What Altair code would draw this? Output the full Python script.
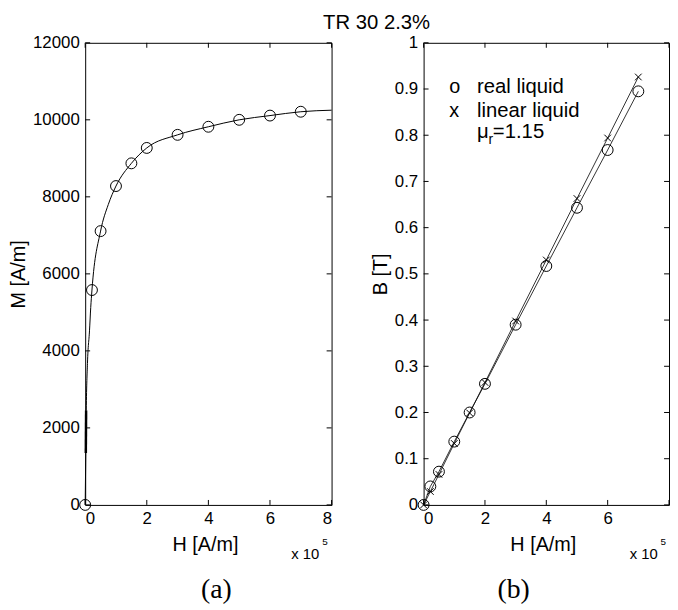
import altair as alt
import pandas as pd

# ---------------- data (H in units of 1e5 A/m) ----------------
H_pts = [0, 0.22, 0.5, 1, 1.5, 2, 3, 4, 5, 6, 7]
M_pts = [0, 5580, 7110, 8280, 8870, 9270, 9610, 9820, 10000, 10110, 10210]

H_curve = [0, 0.02, 0.035, 0.074, 0.14, 0.18, 0.22, 0.5, 0.75, 1, 1.5, 2, 3, 4, 5, 6, 7, 8]
M_curve = [0, 1400, 2450, 3670, 4520, 5125, 5580, 7110, 7800, 8280, 8870, 9270, 9610, 9820, 10000, 10110, 10210, 10250]

H_thick = [0.02, 0.03]
M_thick = [1350, 2450]

B_real = [0, 0.040, 0.072, 0.137, 0.200, 0.262, 0.390, 0.517, 0.643, 0.768, 0.895]
B_lin = [0, 0.029, 0.066, 0.133, 0.199, 0.265, 0.398, 0.530, 0.663, 0.794, 0.926]

x_ticks = [0, 2, 4, 6, 8]
m_ticks = [0, 2000, 4000, 6000, 8000, 10000, 12000]
b_ticks = [0, 0.1, 0.2, 0.3, 0.4, 0.5, 0.6, 0.7, 0.8, 0.9, 1]

title_text = "TR 30 2.3%"
legend_labels = ["real liquid", "linear liquid"]
legend_symbols = ["o", "x"]

# ---------------- layout ----------------
W1, W2, HT = 249, 248, 467
TL = 5  # inward tick length (px)
SANS = "Liberation Sans"
SERIF = "Liberation Serif"
XPATH = "M-1,-1L1,1M-1,1L1,-1"

xs = alt.Scale(domain=[0, 8], nice=False, zero=False)
ys1 = alt.Scale(domain=[0, 12000], nice=False)
ys2 = alt.Scale(domain=[0, 1], nice=False)


def xaxis(W, hide_last=False):
    kw = dict(values=x_ticks, title="H [A/m]", titlePadding=8, titleX=W / 2 - 3.5)
    if hide_last:
        kw["labelExpr"] = "datum.value == 8 ? '' : datum.label"
    return alt.Axis(**kw)


def text(t, x, y, size=20, font=SANS, align="left", baseline="alphabetic"):
    return alt.Chart(pd.DataFrame({"t": [t]})).mark_text(
        font=font, fontSize=size, align=align, baseline=baseline, color="black"
    ).encode(x=alt.value(x), y=alt.value(y), text="t:N")


def tick_layers(X, Y, yfield, yvals, W):
    dfx = pd.DataFrame({"H": x_ticks})
    dfy = pd.DataFrame({yfield: yvals})
    rule = dict(color="black", strokeWidth=1)
    return [
        alt.Chart(dfy).mark_rule(**rule).encode(y=Y, x=alt.value(0), x2=alt.value(TL)),
        alt.Chart(dfy).mark_rule(**rule).encode(y=Y, x=alt.value(W - TL), x2=alt.value(W)),
        alt.Chart(dfx).mark_rule(**rule).encode(x=X, y=alt.value(HT), y2=alt.value(HT - TL)),
        alt.Chart(dfx).mark_rule(**rule).encode(x=X, y=alt.value(0), y2=alt.value(TL)),
    ]


# ---------------- panel (a) ----------------
Xa = alt.X("H:Q", scale=xs, axis=xaxis(W1))
Ya = alt.Y("M:Q", scale=ys1, axis=alt.Axis(values=m_ticks, format="d", title="M [A/m]", titlePadding=4))

curve = alt.Chart(pd.DataFrame({"H": H_curve, "M": M_curve})).mark_line(
    color="black", strokeWidth=1, interpolate="monotone").encode(x=Xa, y=Ya)
thick = alt.Chart(pd.DataFrame({"H": H_thick, "M": M_thick})).mark_line(
    color="black", strokeWidth=2.5).encode(x=Xa, y=Ya)
pts_a = alt.Chart(pd.DataFrame({"H": H_pts, "M": M_pts})).mark_point(
    shape="circle", filled=False, color="black", strokeWidth=1, size=121, opacity=1).encode(x=Xa, y=Ya)

left = alt.layer(
    curve, thick, pts_a,
    *tick_layers(Xa, Ya, "M", m_ticks, W1),
    text(title_text, 294.5, -29.8, size=20.5, align="center", baseline="top"),
    text("x 10", 208.3, HT + 54.3, size=15),
    text("5", 239.5, HT + 41, size=10),
    text("(a)", 132.5, HT + 99.6, size=28, font=SERIF, align="center", baseline="bottom"),
).properties(width=W1, height=HT)

# ---------------- panel (b) ----------------
Xb = alt.X("H:Q", scale=xs, axis=xaxis(W2, hide_last=True))
Yb = alt.Y("B:Q", scale=ys2, axis=alt.Axis(values=b_ticks, format="~g", title="B [T]", titlePadding=4))

line_real = alt.Chart(pd.DataFrame({"H": H_pts, "B": B_real})).mark_line(
    color="black", strokeWidth=0.8).encode(x=Xb, y=Yb)
line_lin = alt.Chart(pd.DataFrame({"H": H_pts, "B": B_lin})).mark_line(
    color="black", strokeWidth=0.8).encode(x=Xb, y=Yb)
pts_real = alt.Chart(pd.DataFrame({"H": H_pts, "B": B_real})).mark_point(
    shape="circle", filled=False, color="black", strokeWidth=1, size=121, opacity=1).encode(x=Xb, y=Yb)
pts_lin = alt.Chart(pd.DataFrame({"H": H_pts, "B": B_lin})).mark_point(
    shape=XPATH, filled=False, color="black", strokeWidth=1, size=45, opacity=1).encode(x=Xb, y=Yb)

right = alt.layer(
    line_lin, line_real, pts_real, pts_lin,
    *tick_layers(Xb, Yb, "B", b_ticks, W2),
    text(legend_symbols[0], 26, 50.3),
    text(legend_labels[0], 54, 50.3, size=20.5),
    text(legend_symbols[1], 26, 75.3),
    text(legend_labels[1], 54, 75.3, size=20.5),
    text("\u03bc", 54, 96, size=20.5),
    text("r", 65.5, 102, size=14),
    text("=1.15", 70, 96, size=20.5),
    text("x 10", 208.3, HT + 54.3, size=15),
    text("5", 239.5, HT + 41, size=10),
    text("(b)", 91, HT + 99.6, size=28, font=SERIF, align="center", baseline="bottom"),
).properties(width=W2, height=HT)

chart = alt.hconcat(left, right, spacing=93, bounds="flush").properties(
    padding={"left": 0, "top": 1, "right": 0, "bottom": 0},
    background="white",
).configure_view(stroke="black", strokeWidth=1).configure_axis(
    grid=False, domain=False, ticks=False, tickSize=0,
    labelFont=SANS, labelFontSize=17, labelColor="black", labelPadding=6,
    titleFont=SANS, titleFontSize=20, titleFontWeight="normal", titleColor="black",
)

chart.save("out.html", embed_options={"renderer": "svg", "actions": False})
